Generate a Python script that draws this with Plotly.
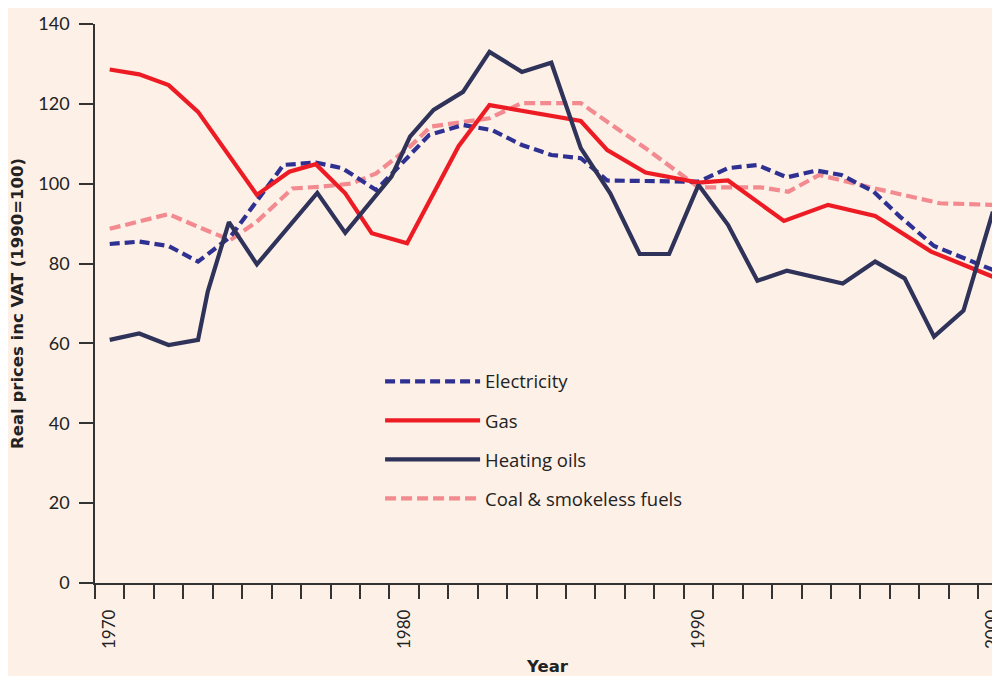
import plotly.graph_objects as go

# ---- data ----
elec_years = [1970, 1971, 1972, 1973, 1974.1, 1975, 1975.9, 1977, 1977.9, 1979.05, 1980.85,
              1982, 1983, 1984, 1985, 1986, 1986.9, 1990, 1991, 1992, 1993, 1994, 1994.85,
              1995.95, 1996.85, 1998, 1998.9, 2000]
elec_vals = [84.9, 85.5, 84.4, 80.5, 86.7, 95.9, 104.7, 105.3, 103.9, 98.4, 112.2,
             114.7, 113.4, 109.7, 107.2, 106.4, 100.8, 100.5, 103.9, 104.7, 101.6, 103.3, 102.2,
             98.0, 91.7, 84.4, 81.7, 78.4]

gas_years = [1970, 1971, 1972, 1973, 1975, 1976.1, 1977, 1978, 1978.9, 1980.1, 1981.85,
             1982.9, 1986, 1986.9, 1988.2, 1990, 1991, 1992.9, 1994.4, 1996, 1997.9, 2000]
gas_vals = [128.6, 127.4, 124.7, 118.0, 97.2, 103.0, 104.9, 97.6, 87.6, 85.1, 109.4,
            119.7, 115.7, 108.4, 102.8, 100.3, 100.8, 90.7, 94.7, 91.9, 83.0, 76.7]

oil_years = [1970, 1971, 1972, 1973, 1973.33, 1974.05, 1975, 1977.05, 1978, 1979.57, 1980.2,
             1981, 1982, 1982.9, 1984, 1985, 1986, 1987, 1988, 1989, 1990, 1991, 1992, 1993,
             1994.9, 1996, 1997, 1998, 1999, 2000]
oil_vals = [60.9, 62.5, 59.6, 60.9, 73.0, 90.4, 79.8, 97.7, 87.7, 101.8, 111.8,
            118.5, 123.0, 133.0, 128.0, 130.3, 108.9, 97.6, 82.4, 82.4, 99.7, 89.7, 75.7, 78.2,
            75.0, 80.5, 76.3, 61.7, 68.2, 93.0]

coal_years = [1970, 1972, 1973, 1974.1, 1975, 1976.2, 1977.25, 1978.25, 1979.05, 1980.2, 1980.9,
              1982, 1982.9, 1984, 1986, 1986.9, 1988.2, 1990, 1992.1, 1993.05, 1994.1, 1996,
              1998.2, 2000]
coal_vals = [88.7, 92.4, 89.2, 85.9, 90.5, 98.8, 99.3, 100.1, 102.6, 109.3, 114.3,
             115.5, 116.4, 120.2, 120.2, 115.5, 108.9, 99.1, 99.1, 98.0, 102.2, 98.8,
             95.1, 94.7]

x_labels = [1970, 1980, 1990, 2000]
y_ticks = [0, 20, 40, 60, 80, 100, 120, 140]

BG = "#fdf0e7"
FONT = "Lato"
TFONT = "Open Sans"
HFONT = "DejaVu Sans"
AX = "#333333"
TXT = "#222222"

fig = go.Figure()
fig.add_trace(go.Scatter(x=coal_years, y=coal_vals, mode="lines", name="Coal & smokeless fuels",
                         legendgroup="d", legendrank=4,
                         line=dict(color="#f28a90", width=4.2, dash="11px,5px")))
fig.add_trace(go.Scatter(x=elec_years, y=elec_vals, mode="lines", name="Electricity",
                         legendgroup="a", legendrank=1,
                         line=dict(color="#2e3192", width=4.2, dash="10px,5px")))
fig.add_trace(go.Scatter(x=gas_years, y=gas_vals, mode="lines", name="Gas",
                         legendgroup="b", legendrank=2,
                         line=dict(color="#ed1c24", width=4.2)))
fig.add_trace(go.Scatter(x=oil_years, y=oil_vals, mode="lines", name="Heating oils",
                         legendgroup="c", legendrank=3,
                         line=dict(color="#2f3259", width=4.2)))

# the page body adds an 8px offset, so the figure is 8px smaller than the window
fig.update_layout(
    width=992, height=668,
    paper_bgcolor=BG, plot_bgcolor=BG,
    margin=dict(l=87, r=0, t=16, b=93),
    font=dict(family=FONT, size=17, color=TXT),
    showlegend=True,
    legend=dict(x=0.315, y=0.394, xanchor="left", yanchor="top",
                bgcolor="rgba(0,0,0,0)", font=dict(family=TFONT, size=18.5, color=TXT),
                tracegroupgap=12, itemwidth=95),
    xaxis=dict(range=[1969.5, 2000.24], showgrid=False, zeroline=False, automargin=False,
               showline=True, linecolor=AX, linewidth=1.5,
               tickmode="array", tickvals=x_labels, ticktext=[str(v) for v in x_labels],
               ticks="", tickangle=-90, ticklabelstandoff=18, ticklabeloverflow="allow",
               tickfont=dict(size=17, color=TXT),
               minor=dict(ticks="outside", ticklen=14, tickwidth=1.5, tickcolor=AX,
                          tickmode="linear", tick0=1969.5, dtick=1, showgrid=False),
               title=dict(text="<b>Year</b>", font=dict(family=HFONT, size=16.5, color=TXT),
                          standoff=12)),
    yaxis=dict(range=[0, 140], showgrid=False, zeroline=False, automargin=False,
               showline=True, linecolor=AX, linewidth=1.5,
               tickmode="array", tickvals=y_ticks,
               ticks="outside", ticklen=14, tickwidth=1.5, tickcolor=AX, ticklabelstandoff=6,
               tickfont=dict(size=18, color=TXT),
               title=dict(text="<b>Real prices inc VAT (1990=100)</b>",
                          font=dict(family=HFONT, size=16.5, color=TXT), standoff=14)),
)

fig.write_html("out.html")
